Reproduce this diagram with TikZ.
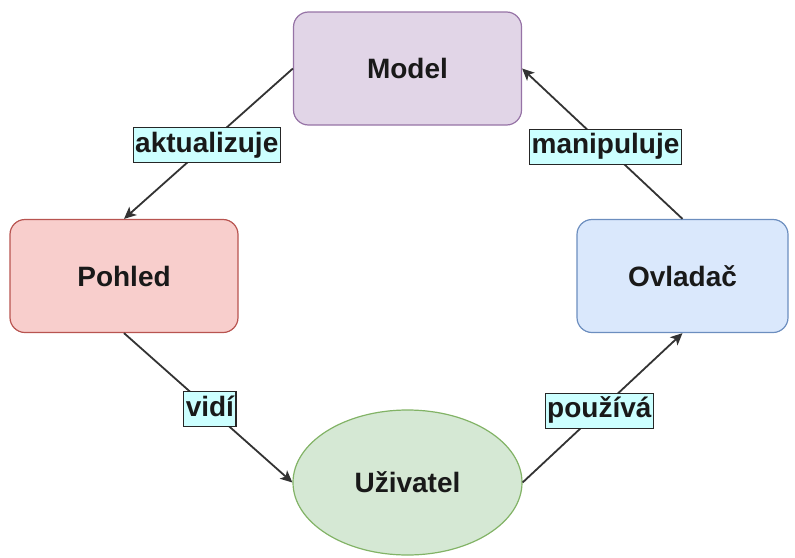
\documentclass[tikz,border=0pt]{standalone}
\usepackage{fontspec}
\setmainfont{Liberation Sans}
\usetikzlibrary{arrows.meta,shapes.geometric}
\definecolor{modelfill}{HTML}{E1D5E7}
\definecolor{modeldraw}{HTML}{9673A6}
\definecolor{pohledfill}{HTML}{F8CECC}
\definecolor{pohleddraw}{HTML}{B85450}
\definecolor{ovlfill}{HTML}{DAE8FC}
\definecolor{ovldraw}{HTML}{6C8EBF}
\definecolor{uzfill}{HTML}{D5E8D4}
\definecolor{uzdraw}{HTML}{82B366}
\definecolor{lblfill}{HTML}{CCFFFF}
\definecolor{linecol}{HTML}{333333}
\tikzset{
  x=1pt, y=-1pt,
  every node/.style={font=\fontsize{28}{31}\selectfont\bfseries, text=black!90},
  box/.style={rectangle, rounded corners=15pt, line width=1.2pt, minimum width=228pt, minimum height=113pt},
  lbl/.style={rectangle, fill=lblfill, draw=black!85, line width=1.2pt, inner xsep=2pt, inner ysep=4.5pt, text height=20pt, text depth=6pt},
  conn/.style={draw=linecol, line width=1.8pt, -{Stealth[length=12pt,width=11pt,inset=3pt]}}
}
\begin{document}
\begin{tikzpicture}
\useasboundingbox (0,0) rectangle (795,557);
\node[box, fill=modelfill, draw=modeldraw] (model) at (407.5,68.5) {Model};
\node[box, fill=pohledfill, draw=pohleddraw] (pohled) at (124,276) {Pohled};
\node[box, fill=ovlfill, draw=ovldraw, minimum width=211pt] (ovl) at (682.5,276) {Ovladač};
\node[ellipse, fill=uzfill, draw=uzdraw, line width=1.2pt, minimum width=229pt, minimum height=145pt, inner sep=0pt] (uz) at (407.5,482.5) {Uživatel};

\draw[conn] (model.west) -- node[lbl, pos=0.51] {aktualizuje} (pohled.north);
\draw[conn] (pohled.south) -- node[lbl, pos=0.51] {vidí} (uz.west);
\draw[conn] (uz.east) -- node[lbl, pos=0.48] {používá} (ovl.south);
\draw[conn] (ovl.north) -- node[lbl, pos=0.48] {manipuluje} (model.east);
\end{tikzpicture}
\end{document}
